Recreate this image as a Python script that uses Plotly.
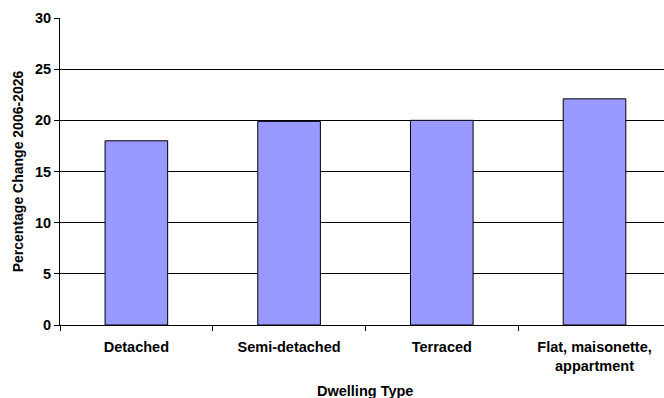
import plotly.graph_objects as go

categories = ["Detached", "Semi-detached", "Terraced", "Flat, maisonette,<br>appartment"]
values = [18.0, 19.9, 20.0, 22.1]
y_ticks = [0, 5, 10, 15, 20, 25, 30]

FONT = "Arial, 'Liberation Sans', sans-serif"
FS = 14.5

fig = go.Figure()
fig.add_trace(go.Bar(
    x=categories, y=values,
    marker=dict(color="#9999FF", line=dict(color="#000000", width=1)),
    showlegend=False,
))

fig.update_layout(
    width=664, height=398,
    margin=dict(l=60, r=0, t=18, b=73),
    plot_bgcolor="white", paper_bgcolor="white",
    bargap=0.59,
    font=dict(family=FONT, size=FS, color="#000000", weight="bold"),
    xaxis=dict(
        range=[-0.5, 3.455],
        showline=True, linecolor="#000000", linewidth=1,
        ticks="outside", tickson="boundaries", ticklen=5, tickcolor="#000000",
        ticklabelstandoff=9,
        showgrid=False,
        tickfont=dict(family=FONT, size=FS, weight="bold"),
    ),
    yaxis=dict(
        range=[0, 30],
        tickvals=y_ticks,
        showline=True, linecolor="#000000", linewidth=1,
        ticks="outside", ticklen=5, tickcolor="#000000",
        showgrid=True, gridcolor="#000000", gridwidth=1,
        zeroline=False,
        tickfont=dict(family=FONT, size=FS, weight="bold"),
        title=dict(text="Percentage Change 2006-2026", standoff=8,
                   font=dict(family=FONT, size=14, weight="bold")),
    ),
    annotations=[dict(
        text="Dwelling Type", x=1.5, xref="x", y=-(391 - 325) / 307, yref="paper",
        xanchor="center", yanchor="middle", showarrow=False,
        font=dict(family=FONT, size=FS, weight="bold"),
    )],
)

fig.write_html("out.html")
